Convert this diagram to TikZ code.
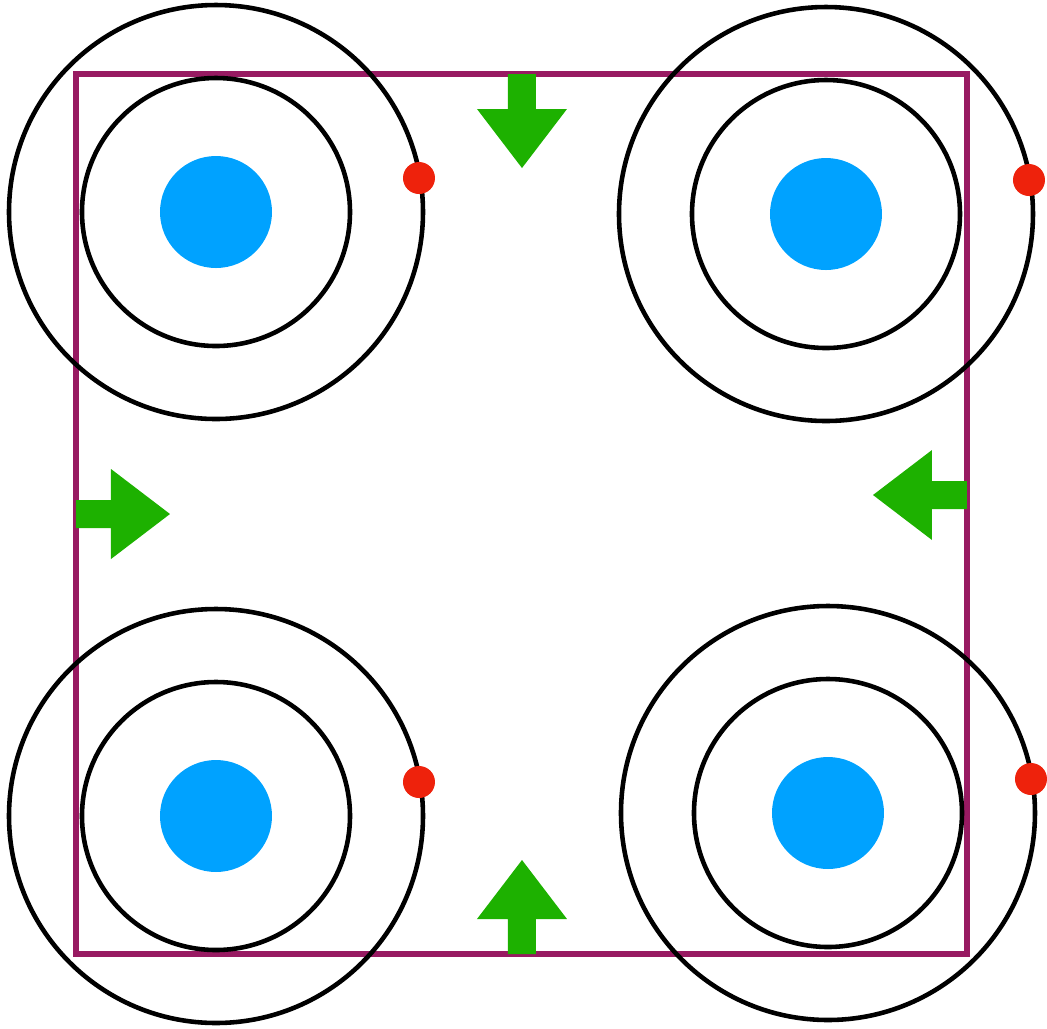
\documentclass[tikz,border=0pt]{standalone}
\usepackage{tikz}
\usetikzlibrary{calc}
\definecolor{AtomBlue}{RGB}{0,162,255}
\definecolor{ElectronRed}{RGB}{238,34,12}
\definecolor{PushGreen}{RGB}{29,177,0}
\definecolor{BoxPlum}{RGB}{152,26,98}

\begin{document}
\begin{tikzpicture}[x=0.01cm,y=-0.01cm]
\useasboundingbox (0,0) rectangle (1047,1029);
\draw[BoxPlum,line width=1.45pt] (76,74) rectangle (967,954);

% inward pushes on the box
\foreach \ax/\ay/\ang in {522/74/0,522/954/180,76/514/90,967/495/-90}
  \fill[PushGreen,rotate around={\ang:(\ax,\ay)}]
    (\ax-14,\ay) -- (\ax+14,\ay) -- (\ax+14,\ay+35) -- (\ax+45,\ay+35)
    -- (\ax,\ay+94) -- (\ax-45,\ay+35) -- (\ax-14,\ay+35) -- cycle;

% atoms
\foreach \cx/\cy/\name in {216/212/tl,826/214/tr,216/816/bl,828/813/br}{
  \coordinate (atom-\name) at (\cx,\cy);
  \fill[AtomBlue] (atom-\name) circle (56);
  \draw[line width=1.3pt] (atom-\name) circle (134);
  \draw[line width=1.3pt] (atom-\name) circle (207);
  \fill[ElectronRed] ($(atom-\name)+(203,-34)$) circle (16);
}
\end{tikzpicture}
\end{document}
